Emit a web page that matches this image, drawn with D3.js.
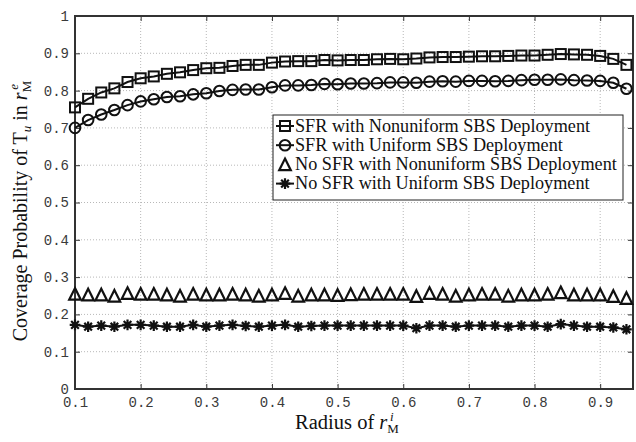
<!DOCTYPE html>
<html><head><meta charset="utf-8">
<script src="https://cdn.jsdelivr.net/npm/d3@7"></script>
<style>body{margin:0;background:#fff}svg{display:block}</style>
</head><body>
<svg id="c" width="636" height="442"></svg>
<script>
const radius = [0.10,0.12,0.14,0.16,0.18,0.20,0.22,0.24,0.26,0.28,0.30,0.32,0.34,0.36,0.38,0.40,0.42,0.44,0.46,0.48,0.50,0.52,0.54,0.56,0.58,0.60,0.62,0.64,0.66,0.68,0.70,0.72,0.74,0.76,0.78,0.80,0.82,0.84,0.86,0.88,0.90,0.92,0.94];
const sfrNonuniform = [0.755,0.778,0.795,0.806,0.823,0.833,0.838,0.845,0.849,0.855,0.860,0.861,0.866,0.869,0.869,0.875,0.878,0.879,0.879,0.882,0.881,0.882,0.882,0.884,0.885,0.884,0.886,0.889,0.890,0.890,0.891,0.892,0.892,0.893,0.894,0.894,0.896,0.898,0.897,0.896,0.893,0.885,0.869];
const sfrUniform = [0.700,0.721,0.736,0.748,0.761,0.771,0.777,0.783,0.785,0.790,0.793,0.799,0.802,0.803,0.803,0.809,0.814,0.814,0.815,0.818,0.817,0.819,0.819,0.820,0.822,0.822,0.821,0.824,0.825,0.824,0.826,0.826,0.825,0.826,0.828,0.829,0.829,0.830,0.828,0.827,0.826,0.821,0.805];
const noSfrNonuniform = [0.255,0.253,0.253,0.250,0.257,0.255,0.255,0.253,0.250,0.255,0.253,0.253,0.255,0.253,0.250,0.253,0.257,0.250,0.253,0.253,0.252,0.254,0.255,0.255,0.255,0.255,0.249,0.257,0.255,0.250,0.253,0.255,0.255,0.250,0.253,0.253,0.255,0.259,0.253,0.253,0.253,0.249,0.244];
const noSfrUniform = [0.172,0.167,0.170,0.167,0.172,0.172,0.170,0.167,0.167,0.172,0.167,0.170,0.172,0.169,0.167,0.170,0.172,0.167,0.169,0.170,0.170,0.170,0.170,0.170,0.170,0.170,0.163,0.170,0.170,0.167,0.170,0.170,0.170,0.167,0.170,0.170,0.167,0.174,0.170,0.167,0.167,0.165,0.160];
const seriesNames = ["SFR with Nonuniform SBS Deployment","SFR with Uniform SBS Deployment","No SFR with Nonuniform SBS Deployment","No SFR with Uniform SBS Deployment"];
const xTicks = [0.1,0.2,0.3,0.4,0.5,0.6,0.7,0.8,0.9];
const yTicks = [0,0.1,0.2,0.3,0.4,0.5,0.6,0.7,0.8,0.9,1];

const series = [
  {name: seriesNames[0], values: sfrNonuniform, marker: "square", line: true},
  {name: seriesNames[1], values: sfrUniform, marker: "circle", line: true},
  {name: seriesNames[2], values: noSfrNonuniform, marker: "triangle", line: false},
  {name: seriesNames[3], values: noSfrUniform, marker: "star", line: true}
];

const L = 75, R = 633, T = 16, B = 389;
const x = d3.scaleLinear().domain([0.1, 0.95]).range([L, R]);
const y = d3.scaleLinear().domain([0, 1]).range([B, T]);
const svg = d3.select("#c");

// grid
const grid = svg.append("g").attr("stroke", "#b8b8b8").attr("stroke-width", 1).attr("stroke-dasharray", "1,2");
xTicks.forEach(t => { if (t > 0.1) grid.append("line").attr("x1", x(t)).attr("x2", x(t)).attr("y1", T).attr("y2", B); });
yTicks.forEach(t => { if (t > 0 && t < 1) grid.append("line").attr("y1", y(t)).attr("y2", y(t)).attr("x1", L).attr("x2", R); });

// axes
const tickFont = "'Liberation Mono', 'Courier New', monospace";
const xAxis = svg.append("g").attr("transform", `translate(0,${B})`)
  .call(d3.axisBottom(x).tickValues(xTicks).tickSize(-5).tickPadding(8).tickFormat(d3.format(".1f")));
const xAxisTop = svg.append("g").attr("transform", `translate(0,${T})`)
  .call(d3.axisTop(x).tickValues(xTicks).tickSize(-5).tickFormat(""));
const yAxis = svg.append("g").attr("transform", `translate(${L},0)`)
  .call(d3.axisLeft(y).tickValues(yTicks).tickSize(-5).tickPadding(6).tickFormat(d => d === 0 ? "0" : d === 1 ? "1" : d3.format(".1f")(d)));
const yAxisR = svg.append("g").attr("transform", `translate(${R},0)`)
  .call(d3.axisRight(y).tickValues(yTicks).tickSize(-5).tickFormat(""));
[xAxis, xAxisTop, yAxis, yAxisR].forEach(g => {
  g.select(".domain").remove();
  g.selectAll(".tick line").attr("stroke", "#333").attr("stroke-width", 1);
  g.selectAll(".tick text").attr("font-family", tickFont).attr("font-size", 14).attr("fill", "#3a3a3a");
});
yAxis.selectAll(".tick text").attr("dy", "0.32em");
svg.append("rect").attr("x", L).attr("y", T).attr("width", R - L).attr("height", B - T)
  .attr("fill", "none").attr("stroke", "#333").attr("stroke-width", 2);

// markers
function drawMarker(g, type, cx, cy) {
  const s = "#111", w = 2;
  if (type === "square") {
    g.append("rect").attr("x", cx - 5).attr("y", cy - 5).attr("width", 10).attr("height", 10)
      .attr("fill", "none").attr("stroke", s).attr("stroke-width", w);
  } else if (type === "circle") {
    g.append("circle").attr("cx", cx).attr("cy", cy).attr("r", 5.3)
      .attr("fill", "none").attr("stroke", s).attr("stroke-width", w);
  } else if (type === "triangle") {
    const h = 5.8;
    g.append("path").attr("d", `M${cx},${cy - h}L${cx + h},${cy + h}L${cx - h},${cy + h}Z`)
      .attr("fill", "none").attr("stroke", s).attr("stroke-width", 2.2).attr("stroke-linejoin", "miter");
  } else if (type === "star") {
    const r = 5.3, d = r * 0.72;
    g.append("path").attr("d", `M${cx - r},${cy}L${cx + r},${cy}M${cx},${cy - r}L${cx},${cy + r}M${cx - d},${cy - d}L${cx + d},${cy + d}M${cx - d},${cy + d}L${cx + d},${cy - d}`)
      .attr("fill", "none").attr("stroke", s).attr("stroke-width", 2.2);
  }
}

const line = d3.line().x((d, i) => x(radius[i])).y(d => y(d));
series.forEach(sr => {
  const g = svg.append("g");
  if (sr.line) g.append("path").attr("d", line(sr.values)).attr("fill", "none").attr("stroke", "#111").attr("stroke-width", 2);
  sr.values.forEach((v, i) => drawMarker(g, sr.marker, x(radius[i]), y(v)));
});

// legend
const lg = svg.append("g");
lg.append("rect").attr("x", 273).attr("y", 115).attr("width", 350).attr("height", 85)
  .attr("fill", "#fff").attr("stroke", "#222").attr("stroke-width", 1);
const serif = "'Liberation Serif', 'Times New Roman', serif";
series.forEach((sr, i) => {
  const cy = 126 + i * 19.2;
  if (sr.line) lg.append("line").attr("x1", 276).attr("x2", 294).attr("y1", cy).attr("y2", cy).attr("stroke", "#111").attr("stroke-width", 2);
  drawMarker(lg, sr.marker, 285, cy);
  lg.append("text").attr("x", 295).attr("y", cy + 5.5).attr("font-family", serif).attr("font-size", 18.2)
    .attr("fill", "#111").text(sr.name);
});

// axis titles
const xt = svg.append("text").attr("x", 347).attr("y", 429).attr("text-anchor", "middle")
  .attr("font-family", serif).attr("font-size", 20.5).attr("fill", "#111");
xt.append("tspan").text("Radius of ");
xt.append("tspan").attr("font-style", "italic").text("r");
xt.append("tspan").attr("font-size", 13).attr("dy", 4).text("M");
xt.append("tspan").attr("font-size", 13).attr("font-style", "italic").attr("dx", -9).attr("dy", -12).text("i");

const yt = svg.append("text").attr("transform", "translate(27,211) rotate(-90)").attr("text-anchor", "middle")
  .attr("font-family", serif).attr("font-size", 20).attr("fill", "#111");
yt.append("tspan").text("Coverage Probability of T");
yt.append("tspan").attr("font-size", 13).attr("font-style", "italic").attr("dy", 4).text("u");
yt.append("tspan").attr("dy", -4).text(" in ");
yt.append("tspan").attr("font-style", "italic").text("r");
yt.append("tspan").attr("font-size", 13).attr("dy", 4).text("M");
yt.append("tspan").attr("font-size", 13).attr("font-style", "italic").attr("dx", -9).attr("dy", -13).text("e");
</script>
</body></html>
